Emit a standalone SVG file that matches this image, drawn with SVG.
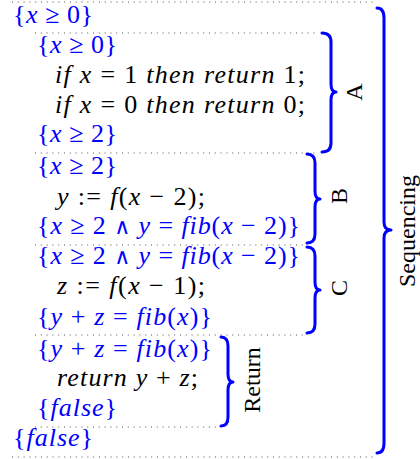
<svg xmlns="http://www.w3.org/2000/svg" width="420" height="459" viewBox="0 0 420 459">
<style>
.t{font-family:"Liberation Serif",serif;font-size:26px}
.a{fill:#0000ff}
.c{fill:#000}
.i{font-style:italic}
.op{font-family:"DejaVu Serif",serif;font-size:22px}
.sep{stroke:#555;stroke-width:1;stroke-dasharray:1 4.8;fill:none}
.br{stroke:#0000ff;stroke-width:3;fill:none;stroke-linecap:round;stroke-linejoin:round}
.lbl{font-family:"Liberation Serif",serif;font-size:24px;fill:#000;text-anchor:middle}
</style>
<rect width="420" height="459" fill="#fff"/>
<g id="outer">
<line class="sep" x1="12" y1="2" x2="373" y2="2"/>
<line class="sep" x1="12" y1="457" x2="373" y2="457"/>
<text class="t a" x="13" y="23" textLength="80" lengthAdjust="spacing">{<tspan class="i">x</tspan> ≥ 0}</text>
<text class="t a" x="13" y="446" textLength="80" lengthAdjust="spacing">{<tspan class="i">false</tspan>}</text>
</g>
<g id="boxA">
<line class="sep" x1="35" y1="33" x2="318" y2="33"/>
<line class="sep" x1="35" y1="153" x2="318" y2="153"/>
<text class="t a" x="37" y="53" textLength="80" lengthAdjust="spacing">{<tspan class="i">x</tspan> ≥ 0}</text>
<text class="t c" x="55" y="83" textLength="250" lengthAdjust="spacing"><tspan class="i">if x</tspan> = 1 <tspan class="i">then return</tspan> 1;</text>
<text class="t c" x="55" y="113" textLength="250" lengthAdjust="spacing"><tspan class="i">if x</tspan> = 0 <tspan class="i">then return</tspan> 0;</text>
<text class="t a" x="37" y="142" textLength="80" lengthAdjust="spacing">{<tspan class="i">x</tspan> ≥ 2}</text>
</g>
<g id="boxB">
<line class="sep" x1="35" y1="245" x2="305" y2="245"/>
<text class="t a" x="37" y="174" textLength="80" lengthAdjust="spacing">{<tspan class="i">x</tspan> ≥ 2}</text>
<text class="t c" x="57" y="205" textLength="148" lengthAdjust="spacing"><tspan class="i">y</tspan> := <tspan class="i">f</tspan>(<tspan class="i">x</tspan> − 2);</text>
<text class="t a" x="37" y="234" textLength="263" lengthAdjust="spacing">{<tspan class="i">x</tspan> ≥ 2 <tspan class="op">∧</tspan> <tspan class="i">y</tspan> = <tspan class="i">fib</tspan>(<tspan class="i">x</tspan> − 2)}</text>
</g>
<g id="boxC">
<line class="sep" x1="35" y1="335" x2="305" y2="335"/>
<text class="t a" x="37" y="264" textLength="263" lengthAdjust="spacing">{<tspan class="i">x</tspan> ≥ 2 <tspan class="op">∧</tspan> <tspan class="i">y</tspan> = <tspan class="i">fib</tspan>(<tspan class="i">x</tspan> − 2)}</text>
<text class="t c" x="57" y="294" textLength="148" lengthAdjust="spacing"><tspan class="i">z</tspan> := <tspan class="i">f</tspan>(<tspan class="i">x</tspan> − 1);</text>
<text class="t a" x="37" y="325" textLength="175" lengthAdjust="spacing">{<tspan class="i">y</tspan> + <tspan class="i">z</tspan> = <tspan class="i">fib</tspan>(<tspan class="i">x</tspan>)}</text>
</g>
<g id="boxReturn">
<line class="sep" x1="35" y1="427" x2="217" y2="427"/>
<text class="t a" x="37" y="357" textLength="175" lengthAdjust="spacing">{<tspan class="i">y</tspan> + <tspan class="i">z</tspan> = <tspan class="i">fib</tspan>(<tspan class="i">x</tspan>)}</text>
<text class="t c" x="57" y="386" textLength="141" lengthAdjust="spacing"><tspan class="i">return y</tspan> + <tspan class="i">z</tspan>;</text>
<text class="t a" x="37" y="416" textLength="80" lengthAdjust="spacing">{<tspan class="i">false</tspan>}</text>
</g>
<g id="connectors">
<path class="br" d="M322,33 Q331,33 331,42 L331,84 Q331,92 336,92 Q331,92 331,100 L331,143 Q331,152 322,152"/>
<path class="br" d="M307,154 Q315,154 315,163 L315,191 Q315,199 320,199 Q315,199 315,207 L315,234 Q315,243 307,243"/>
<path class="br" d="M307,247 Q315,247 315,256 L315,282 Q315,290 320,290 Q315,290 315,298 L315,324 Q315,333 307,333"/>
<path class="br" d="M221,337 Q228,337 228,346 L228,374 Q228,382 233,382 Q228,382 228,390 L228,417 Q228,426 221,426"/>
<path class="br" d="M377,8 Q384,8 384,18 L384,222 Q384,230 391,230 Q384,230 384,238 L384,443 Q384,453 377,453"/>
</g>
<g id="labels">
<text class="lbl" transform="translate(362,92) rotate(-90)">A</text>
<text class="lbl" transform="translate(347,196) rotate(-90)">B</text>
<text class="lbl" transform="translate(347,288) rotate(-90)">C</text>
<text class="lbl" transform="translate(260,380) rotate(-90)">Return</text>
<text class="lbl" transform="translate(415,231) rotate(-90)">Sequencing</text>
</g>
</svg>
